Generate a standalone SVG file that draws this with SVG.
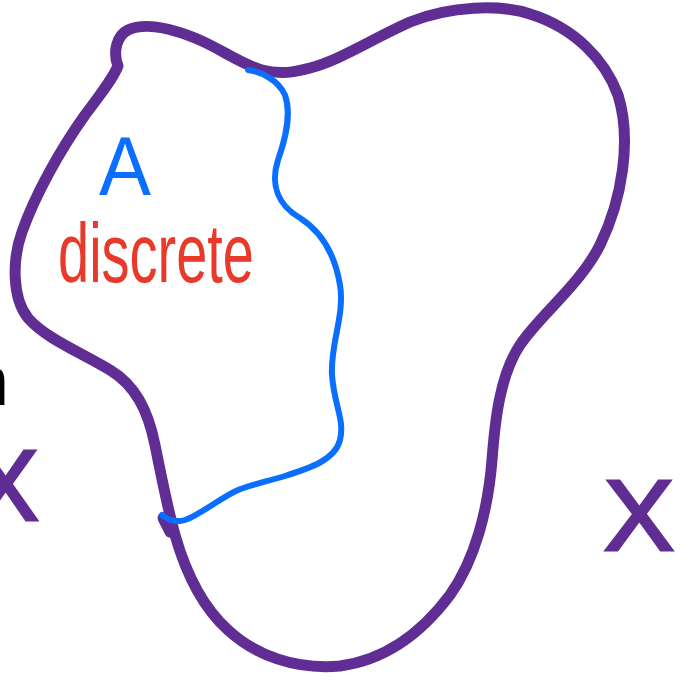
<svg xmlns="http://www.w3.org/2000/svg" width="690" height="683" viewBox="0 0 690 683">
<style>
.purple{fill:none;stroke:#5f2d93;stroke-width:11;stroke-linecap:round;stroke-linejoin:round}
.blue{fill:none;stroke:#0a6eff;stroke-width:6;stroke-linecap:round;stroke-linejoin:round}
.hand{font-family:"Liberation Sans","DejaVu Sans",sans-serif}
</style>
<rect width="690" height="683" fill="#ffffff"/>
<g id="region-X">
<path class="purple" d="M118,66 C112,50 118,35 128,30 C145,22 170,28 195,38 C220,48 240,64 262,70 C280,75 295,72 310,68 C340,60 370,40 410,22 C450,6 500,4 530,14 C575,28 605,60 618,95 C632,140 622,200 600,245 C580,285 540,315 520,345 C500,375 495,420 492,460 C488,510 475,560 450,595 C420,635 385,660 340,666 C295,670 255,655 228,630 C200,605 185,570 175,535 C168,510 162,480 155,445 C148,410 135,385 110,370 C80,352 45,338 28,318 C12,298 12,260 22,232 C35,195 60,150 85,115 C100,95 112,80 118,66 Z"/>
<path class="purple" d="M163,518 L170,532"/>
</g>
<g id="region-A">
<path class="blue" d="M248,70 C262,72 278,80 285,95 C292,115 285,140 278,160 C270,185 278,205 300,218 C322,232 335,255 340,285 C345,315 330,345 332,375 C334,405 345,420 340,440 C335,460 310,468 285,476 C265,482 250,485 238,490 C220,498 200,515 185,520 C175,523 168,520 162,515"/>
</g>
<g id="labels">
<text class="hand" x="99" y="195" font-size="84" fill="#0a6eff" textLength="52" lengthAdjust="spacingAndGlyphs">A</text>
<text class="hand" x="58" y="282" font-size="84" fill="#e8392a" textLength="196" lengthAdjust="spacingAndGlyphs">discrete</text>
<text class="hand" x="604" y="550" font-size="100" fill="#5f2d93" stroke="#5f2d93" stroke-width="3" textLength="70" lengthAdjust="spacingAndGlyphs">X</text>
<text class="hand" x="-28" y="520" font-size="100" fill="#5f2d93" stroke="#5f2d93" stroke-width="3">X</text>
<text class="hand" x="-30" y="405" font-size="70" fill="#000000">n</text>
<text class="hand" x="-22" y="40" font-size="40" fill="#e8392a">f</text>
</g>
</svg>
